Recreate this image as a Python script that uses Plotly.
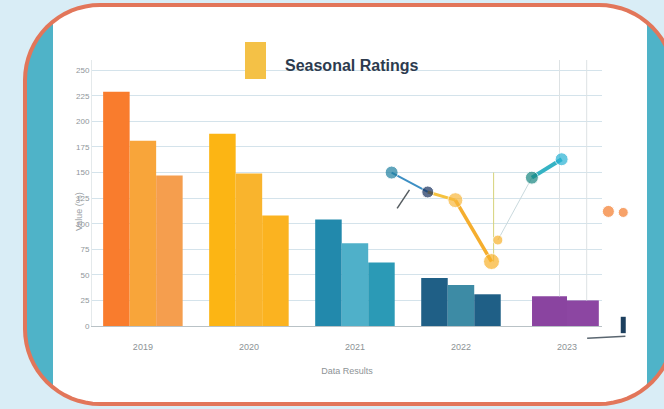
import math
import plotly.graph_objects as go

W, H = 664, 409

# ---------------- data ----------------
categories = ["2019", "2020", "2021", "2022", "2023"]
series_a = [229, 188, 104, 47, 29]
series_b = [181, 149, 81, 40, 25]
series_c = [147, 108, 62, 31, None]
colors_a = ["#f97c2d", "#fcb514", "#2289ac", "#1f5f86", "#8a44a0"]
colors_b = ["#f8a53a", "#f9b42d", "#4fb0c9", "#3d8ba5", "#8c46a2"]
colors_c = ["#f59e4e", "#fbb320", "#2b9ab6", "#1f5f86", "#8c46a2"]

line_x = [7.05, 7.9, 8.55, 9.4, 9.55, 10.35, 11.05]
line_y = [150, 131, 123, 63, 84, 145, 163]
line_marker_colors = ["#1e7fa0", "#16305e", "#f8b73c", "#f8b22a", "#f8b22a", "#17867f", "#27b2d4"]
stub_x = [7.18, 7.47]
stub_y = [115, 133]
extra_x = [12.15, 12.5]
extra_y = [112, 111]
tick_mark_x = [12.5, 12.5]
tick_mark_y = [-7, 9]
legend_line_x = [11.65, 12.55]
legend_line_y = [-12, -10]
ref_lines = [9.45, 11.0, 11.64]
ref_line_bottoms = [63, 29, 25]
ref_line_tops = [150, 280, 275]

title_text = "Seasonal Ratings"
x_title = "Data Results"
y_title = "Value (%)"

# ---------------- geometry helpers ----------------
PX_L, PX_R = 92, 602          # bar plot area (px)
PY_B, PY_T = 326, 60
Y_MAX = 260
PX_R2 = 645                   # overlay area right edge
PY_B2 = 345                   # overlay area bottom
X2_UNIT = 42.5                # px per overlay x unit
Y_UNIT = (PY_B - PY_T) / Y_MAX


def X(px):
    return px / W


def Y(py):
    return 1 - py / H


def rrect_pts(x0, y0, x1, y1, r, n=16):
    pts = []
    corners = [(x1 - r, y0 + r, -90, 0), (x1 - r, y1 - r, 0, 90),
               (x0 + r, y1 - r, 90, 180), (x0 + r, y0 + r, 180, 270)]
    for cx, cy, a0, a1 in corners:
        for i in range(n + 1):
            a = math.radians(a0 + (a1 - a0) * i / n)
            pts.append((cx + r * math.cos(a), cy + r * math.sin(a)))
    return pts


def to_path(pts):
    return "M " + " L ".join(f"{X(p[0]):.5f},{Y(p[1]):.5f}" for p in pts) + " Z"


outer = rrect_pts(25, 5, 674, 404, 75)
inner = [(min(max(p[0], 53), 647), p[1]) for p in outer]

fig = go.Figure()

# bars: groups 1-4 use three bars, last group two wider bars
wa = [0.25] * 4 + [0.33]
oa = [-0.375] * 4 + [-0.33]
wb = [0.25] * 4 + [0.30]
ob = [-0.125] * 4 + [0.0]
wc = [0.25] * 5
oc = [0.125] * 5
for vals, cols, w, o in [(series_a, colors_a, wa, oa), (series_b, colors_b, wb, ob),
                         (series_c, colors_c, wc, oc)]:
    fig.add_trace(go.Bar(x=categories, y=vals, marker=dict(color=cols, line=dict(width=0)),
                         width=w, offset=o, showlegend=False, hoverinfo="skip"))

# overlay line series on a second subplot (x2/y2) with the same y scale
seg_specs = [((0, 1), "#3d8fc4", 2), ((1, 2), "#f6c23e", 3), ((2, 3), "#f5ae2e", 3.5),
             ((4, 5), "#c9d9dd", 1), ((5, 6), "#35b3c4", 4)]
for (i, j), c, wdt in seg_specs:
    fig.add_trace(go.Scatter(x=line_x[i:j + 1], y=line_y[i:j + 1], xaxis="x2", yaxis="y2",
                             mode="lines", line=dict(color=c, width=wdt),
                             showlegend=False, hoverinfo="skip"))
fig.add_trace(go.Scatter(x=stub_x, y=stub_y, xaxis="x2", yaxis="y2", mode="lines",
                         line=dict(color="#555c60", width=1.5), showlegend=False, hoverinfo="skip"))
fig.add_trace(go.Scatter(x=legend_line_x, y=legend_line_y, xaxis="x2", yaxis="y2", mode="lines",
                         line=dict(color="#5a6670", width=1.5), showlegend=False, hoverinfo="skip"))
fig.add_trace(go.Scatter(x=tick_mark_x, y=tick_mark_y, xaxis="x2", yaxis="y2", mode="lines",
                         line=dict(color="#1c3f5e", width=5), showlegend=False, hoverinfo="skip"))
fig.add_trace(go.Scatter(x=line_x, y=line_y, xaxis="x2", yaxis="y2", mode="markers",
                         marker=dict(color=line_marker_colors, size=[13, 12, 15, 16, 10, 13, 13]),
                         showlegend=False, hoverinfo="skip"))
fig.add_trace(go.Scatter(x=extra_x, y=extra_y, xaxis="x2", yaxis="y2", mode="markers",
                         marker=dict(color="#f47b2a", size=[12, 10]),
                         showlegend=False, hoverinfo="skip"))

shapes = [
    dict(type="path", xref="paper", yref="paper", path=to_path(outer), fillcolor="#4fb3c8",
         line=dict(width=0), layer="below"),
    dict(type="path", xref="paper", yref="paper", path=to_path(inner), fillcolor="#ffffff",
         line=dict(width=0), layer="below"),
    dict(type="path", xref="paper", yref="paper", path=to_path(outer), fillcolor="rgba(0,0,0,0)",
         line=dict(width=4, color="#e2765a"), layer="above"),
    dict(type="rect", xref="paper", yref="paper", x0=X(245), x1=X(266), y0=Y(79), y1=Y(42),
         fillcolor="#f4c146", line=dict(width=0)),
]
ref_colors = ["#d6d27a", "#dde2e4", "#dde2e4"]
for xv, y0, y1, c in zip(ref_lines, ref_line_bottoms, ref_line_tops, ref_colors):
    shapes.append(dict(type="line", xref="x2", yref="y2", x0=xv, x1=xv, y0=y0, y1=y1,
                       line=dict(color=c, width=1), layer="below"))

annotations = [
    dict(text=f"<b>{title_text}</b>", x=X(283), y=Y(66), xref="paper", yref="paper",
         xanchor="left", yanchor="middle", showarrow=False,
         font=dict(family="Liberation Sans", size=16, color="#2d3b4e")),
    dict(text=y_title, x=X(72), y=Y(212), xref="paper", yref="paper", textangle=-90,
         showarrow=False, font=dict(family="Liberation Sans", size=9, color="#9aa0a4")),
]

fig.update_layout(
    width=W, height=H, margin=dict(l=0, r=0, t=0, b=0, autoexpand=False),
    paper_bgcolor="#d9edf6", plot_bgcolor="rgba(0,0,0,0)",
    barmode="overlay", shapes=shapes, annotations=annotations,
    xaxis=dict(domain=[X(PX_L), X(PX_R)], range=[-0.48, 4.33], type="category",
               showgrid=False, zeroline=False, showline=True, linecolor="#b9c2c6", linewidth=1,
               ticks="", ticklabelstandoff=12,
               tickfont=dict(family="Liberation Sans", size=9, color="#8d9396"),
               title=dict(text=x_title, standoff=16,
                          font=dict(family="Liberation Sans", size=9, color="#8d9396"))),
    yaxis=dict(domain=[Y(PY_B), Y(PY_T)], range=[0, Y_MAX], dtick=25, showgrid=True,
               gridcolor="#d4e3eb", gridwidth=1, zeroline=False, showline=True,
               linecolor="#e4e9eb", ticks="",
               tickfont=dict(family="Liberation Sans", size=8, color="#8f969a")),
    xaxis2=dict(domain=[X(PX_L), X(PX_R2)], range=[0, (PX_R2 - PX_L) / X2_UNIT],
                anchor="y2", visible=False),
    yaxis2=dict(domain=[Y(PY_B2), Y(PY_T)], range=[-(PY_B2 - PY_B) / Y_UNIT, Y_MAX],
                anchor="x2", visible=False),
    font=dict(family="Liberation Sans"),
)

fig.write_html("out.html", config={"displayModeBar": False},
               post_script="document.body.style.margin='0';")
